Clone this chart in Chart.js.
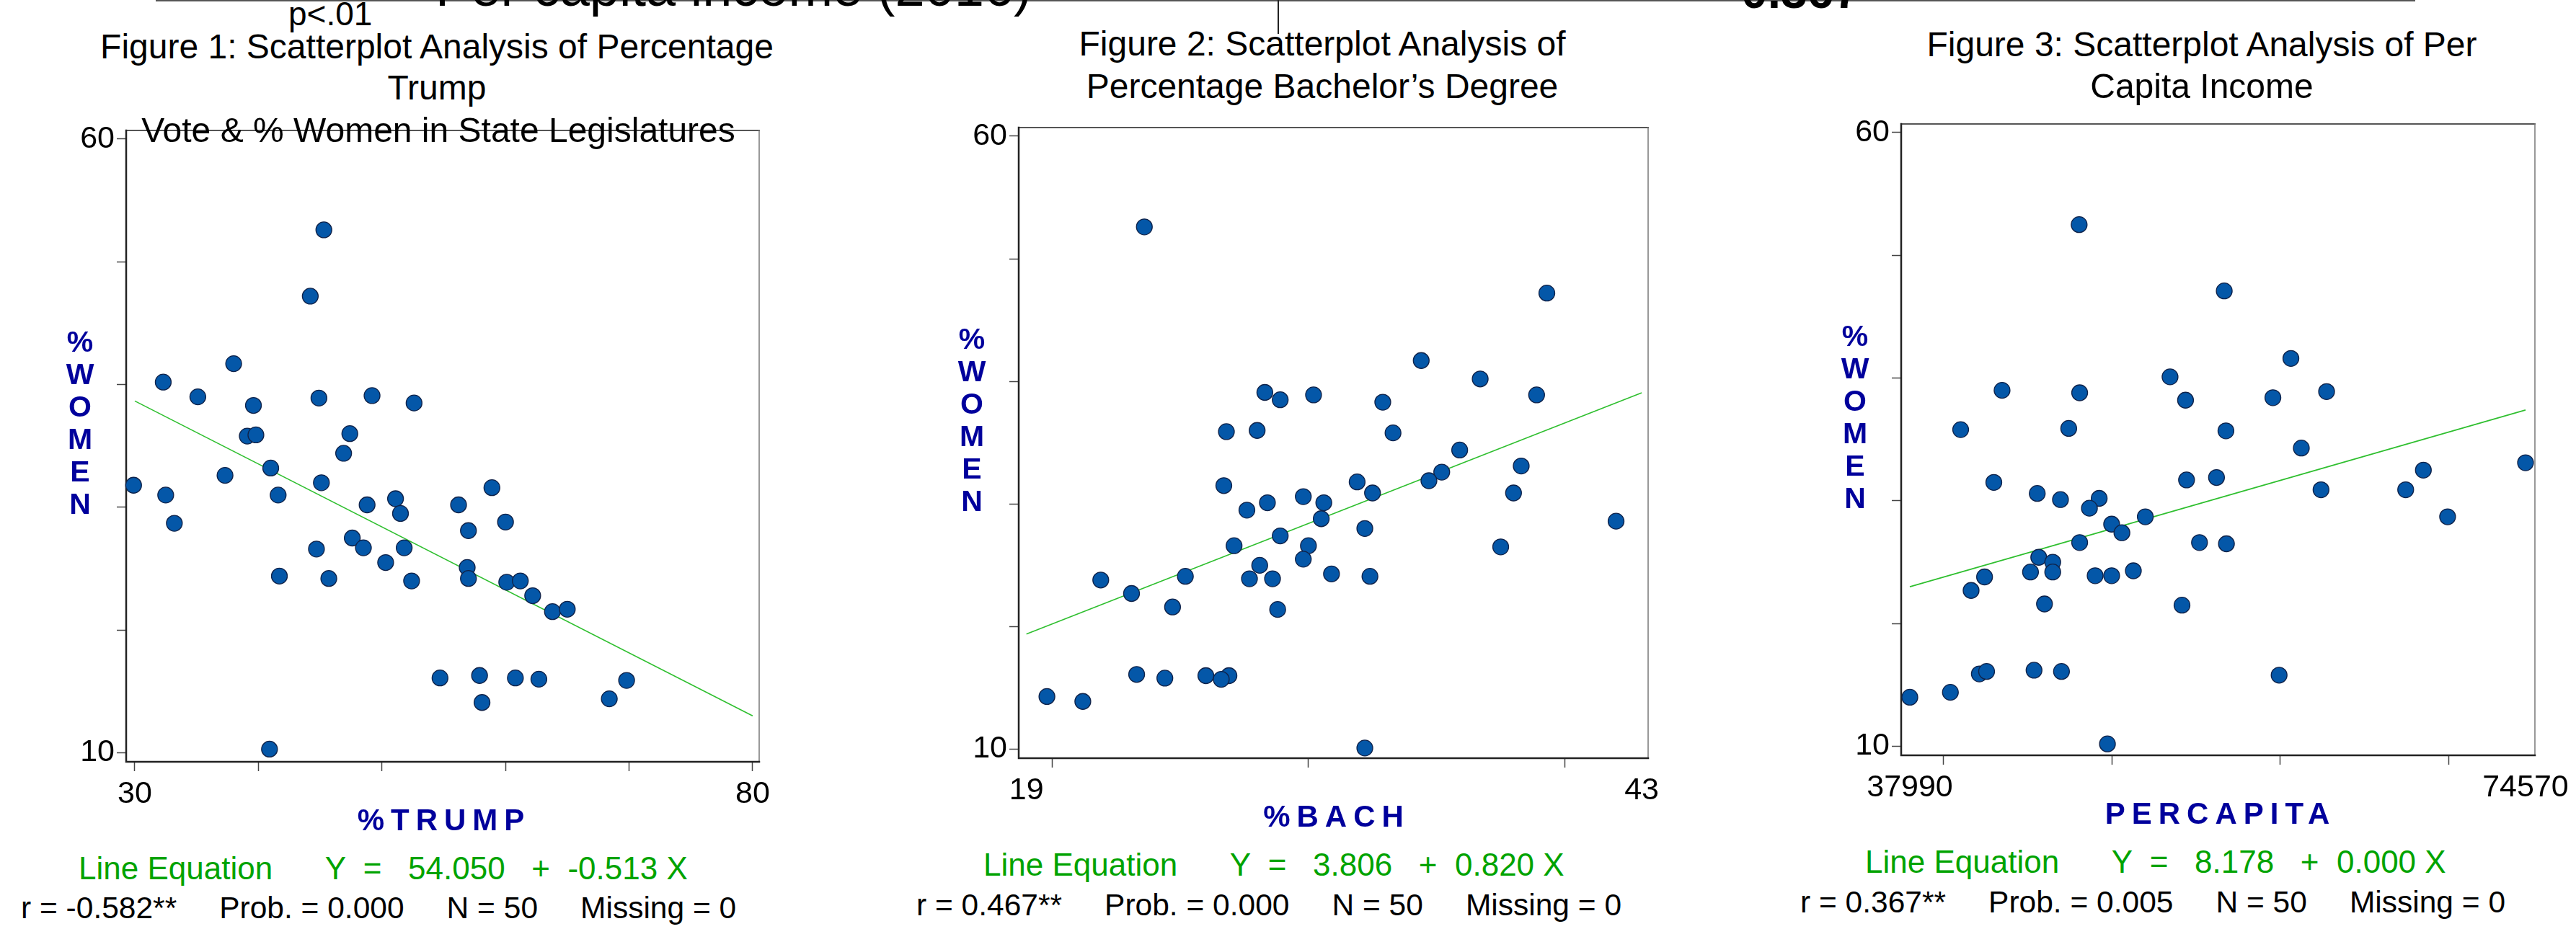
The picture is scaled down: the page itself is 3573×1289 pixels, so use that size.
<!DOCTYPE html>
<html>
<head>
<meta charset="utf-8">
<script src="https://cdn.jsdelivr.net/npm/chart.js@4.4.1/dist/chart.umd.min.js"></script>
<style>
body { margin: 0; background: #fff; }
#page { position: relative; width: 3573px; height: 1289px; overflow: hidden; background: #fff;
        font-family: "Liberation Sans", Arial, sans-serif; }
#page canvas { position: absolute; }
.t { position: absolute; white-space: pre; color: #000; }
.rule { position: absolute; }
</style>
</head>
<body>
<div id="page"></div>
<script>
// --- data ---
// y axis (% women in state legislatures), same for all three plots
const womenMarks = [10, 20, 30, 40, 50, 60];
const womenLabels = [10, 60];

// Figure 1: % Trump vote
const trumpX = [45.3, 44.2, 38.0, 32.3, 35.1, 44.9, 49.2, 52.6, 39.6, 39.1,
                39.8, 47.4, 46.9, 41.0, 37.3, 29.9, 45.1, 32.5, 41.6, 58.9,
                51.1, 48.8, 56.2, 51.5, 33.2, 60.0, 57.0, 47.6, 44.7, 48.5,
                51.8, 50.3, 56.9, 41.7, 45.7, 52.4, 57.0, 60.1, 61.2, 62.2,
                63.8, 65.0, 54.7, 57.9, 60.8, 62.7, 69.8, 58.1, 68.4, 40.9];
const trumpY = [52.6, 47.2, 41.7, 40.2, 39.0, 38.9, 39.1, 38.5, 38.3, 35.8,
                35.9, 36.0, 34.4, 33.2, 32.6, 31.8, 32.0, 31.0, 31.0, 31.6,
                30.7, 30.2, 30.2, 29.5, 28.7, 28.8, 28.1, 27.5, 26.6, 26.7,
                26.7, 25.5, 25.1, 24.4, 24.2, 24.0, 24.2, 23.9, 24.0, 22.8,
                21.5, 21.7, 16.1, 16.3, 16.1, 16.0, 15.9, 14.1, 14.4, 10.3];
const trumpMarks = [30, 40, 50, 60, 70, 80];
const trumpLabels = [30, 80];
const trumpLineX = [30, 80];
const trumpLineY = [38.66, 13.01];

// Figure 2: % bachelor's degree
const bachX = [23.6, 39.3, 34.4, 36.7, 28.3, 28.9, 30.2, 32.9, 38.9, 26.8,
               28.0, 33.3, 35.9, 38.3, 35.2, 34.7, 26.7, 31.9, 32.5, 38.0,
               29.8, 28.4, 30.6, 27.6, 30.5, 42.0, 32.2, 28.9, 27.1, 30.0,
               37.5, 29.8, 28.1, 21.9, 25.2, 27.7, 28.6, 30.9, 32.4, 23.1,
               24.7, 28.8, 23.3, 24.4, 26.0, 26.9, 26.6, 19.8, 21.2, 32.2];
const bachY = [52.6, 47.2, 41.7, 40.2, 39.1, 38.5, 38.9, 38.3, 38.9, 35.9,
               36.0, 35.8, 34.4, 33.1, 32.6, 31.9, 31.5, 31.8, 30.9, 30.9,
               30.6, 30.1, 30.1, 29.5, 28.8, 28.6, 28.0, 27.4, 26.6, 26.6,
               26.5, 25.5, 25.0, 23.8, 24.1, 23.9, 23.9, 24.3, 24.1, 22.7,
               21.6, 21.4, 16.1, 15.8, 16.0, 16.0, 15.7, 14.3, 13.9, 10.1];
const bachMarks = [20, 30, 40];
const bachLabels = [19, 43];
const bachLineX = [19, 43];
const bachLineY = [19.39, 39.07];

// Figure 3: per capita income
const incomeX = [48050, 56670, 60630, 53450, 43470, 48080, 59560, 54370, 62750, 41010,
                 47430, 56770, 61250, 74570, 68500, 54430, 56210, 42980, 45560, 46940,
                 49240, 62420, 67450, 48660, 51980, 69940, 49980, 50590, 48080, 55200,
                 56800, 45650, 46480, 45160, 46480, 49000, 49980, 51270, 42430, 41630,
                 45990, 54160, 42120, 42550, 45370, 47000, 59930, 40400, 37990, 49730];
const incomeY = [52.5, 47.1, 41.6, 40.1, 39.0, 38.8, 38.4, 38.2, 38.9, 35.8,
                 35.9, 35.7, 34.3, 33.1, 32.5, 31.7, 31.9, 31.5, 30.6, 30.1,
                 30.2, 30.9, 30.9, 29.4, 28.7, 28.7, 28.1, 27.4, 26.6, 26.6,
                 26.5, 25.4, 25.0, 24.2, 24.2, 23.9, 23.9, 24.3, 23.8, 22.7,
                 21.6, 21.5, 15.9, 16.1, 16.2, 16.1, 15.8, 14.4, 14.0, 10.2];
const incomeMarks = [40000, 50000, 60000, 70000];
const incomeLabels = [37990, 74570];
const incomeLineX = [37990, 74570];
const incomeLineY = [23.0, 37.4];

const FONT = '"Liberation Sans", Arial, sans-serif';
Chart.defaults.font.family = FONT;

const page = document.getElementById('page');

// chart area of each plot box in page pixels, plus axis range
const panels = [
  { area: { left: 175, top: 181, right: 1053, bottom: 1057 }, xMin: 29.3, xMax: 80.53,
    xs: trumpX, ys: trumpY, marks: trumpMarks, labels: trumpLabels, lx: trumpLineX, ly: trumpLineY },
  { area: { left: 1413, top: 177, right: 2286, bottom: 1052 }, xMin: 18.7, xMax: 43.25,
    xs: bachX, ys: bachY, marks: bachMarks, labels: bachLabels, lx: bachLineX, ly: bachLineY },
  { area: { left: 2637, top: 172, right: 3516, bottom: 1048 }, xMin: 37476, xMax: 75127,
    xs: incomeX, ys: incomeY, marks: incomeMarks, labels: incomeLabels, lx: incomeLineX, ly: incomeLineY }
];

const boxPlugin = {
  id: 'box',
  beforeDatasetsDraw(chart) {
    const { ctx, chartArea: a } = chart;
    ctx.save();
    ctx.lineCap = 'square';
    ctx.strokeStyle = '#555';
    ctx.lineWidth = 2;
    ctx.beginPath();
    ctx.moveTo(a.left, a.top);
    ctx.lineTo(a.right, a.top);
    ctx.stroke();
    ctx.strokeStyle = '#777';
    ctx.lineWidth = 1.5;
    ctx.beginPath();
    ctx.moveTo(a.right, a.top);
    ctx.lineTo(a.right, a.bottom);
    ctx.stroke();
    ctx.strokeStyle = '#222';
    ctx.lineWidth = 2.5;
    ctx.beginPath();
    ctx.moveTo(a.left, a.top);
    ctx.lineTo(a.left, a.bottom);
    ctx.lineTo(a.right, a.bottom);
    ctx.stroke();
    ctx.restore();
  }
};

function tickSet(marks, labels) {
  return Array.from(new Set(marks.concat(labels))).sort((a, b) => a - b);
}

function makePanel(p) {
  const padL = 110, padT = 30, padR = 80, padB = 100;
  const a = p.area;
  const cv = document.createElement('canvas');
  cv.width = a.right - a.left + padL + padR;
  cv.height = a.bottom - a.top + padT + padB;
  cv.style.left = (a.left - padL) + 'px';
  cv.style.top = (a.top - padT) + 'px';
  page.appendChild(cv);

  const xTicks = tickSet(p.marks, p.labels);
  const yTicks = tickSet(womenMarks, womenLabels);
  const points = p.xs.map((x, i) => ({ x: x, y: p.ys[i] }));
  const line = p.lx.map((x, i) => ({ x: x, y: p.ly[i] }));

  new Chart(cv, {
    type: 'scatter',
    data: {
      datasets: [
        {
          data: points,
          order: 0,
          pointStyle: 'circle',
          pointRadius: 11,
          pointHoverRadius: 11,
          backgroundColor: '#0457a8',
          borderColor: '#10234a',
          borderWidth: 1.3,
          clip: false
        },
        {
          data: line,
          order: 1,
          showLine: true,
          pointRadius: 0,
          borderColor: '#2fbf2f',
          borderWidth: 1.6
        }
      ]
    },
    plugins: [boxPlugin],
    options: {
      responsive: false,
      animation: false,
      events: [],
      layout: { padding: { top: padT, right: padR, left: 0, bottom: 0 } },
      plugins: { legend: { display: false }, tooltip: { enabled: false } },
      scales: {
        x: {
          type: 'linear',
          min: p.xMin,
          max: p.xMax,
          afterBuildTicks: s => { s.ticks = xTicks.map(v => ({ value: v })); },
          afterFit: s => { s.height = padB; },
          border: { display: false },
          grid: {
            drawOnChartArea: false,
            drawTicks: true,
            tickLength: 13,
            tickWidth: 1.5,
            tickColor: c => (c.tick && p.marks.includes(c.tick.value)) ? '#444' : 'rgba(0,0,0,0)'
          },
          ticks: {
            autoSkip: false,
            maxRotation: 0,
            padding: 6,
            color: '#000',
            font: { size: 43 },
            callback: v => p.labels.includes(v) ? String(v) : ''
          }
        },
        y: {
          type: 'linear',
          min: 9.27,
          max: 60.7,
          afterBuildTicks: s => { s.ticks = yTicks.map(v => ({ value: v })); },
          afterFit: s => { s.width = padL; },
          border: { display: false },
          grid: {
            drawOnChartArea: false,
            drawTicks: true,
            tickLength: 13,
            tickWidth: 1.5,
            tickColor: c => (c.tick && womenMarks.includes(c.tick.value)) ? '#444' : 'rgba(0,0,0,0)'
          },
          ticks: {
            autoSkip: false,
            padding: 3,
            color: '#000',
            font: { size: 43 },
            callback: v => womenLabels.includes(v) ? String(v) : ''
          }
        }
      }
    }
  });
}

panels.forEach(makePanel);

// --- text ---
function addText(str, x, baseline, size, opts) {
  opts = opts || {};
  const d = document.createElement('div');
  d.className = 't';
  d.textContent = str;
  d.style.fontSize = size + 'px';
  d.style.lineHeight = size + 'px';
  d.style.top = (baseline - 0.8465 * size) + 'px';
  d.style.left = x + 'px';
  if (opts.bold) d.style.fontWeight = 'bold';
  if (opts.color) d.style.color = opts.color;
  if (opts.spacing) d.style.letterSpacing = opts.spacing + 'px';
  if (opts.center) d.style.transform = 'translateX(-50%)';
  page.appendChild(d);
}

function addRule(left, top, w, h, color) {
  const d = document.createElement('div');
  d.className = 'rule';
  d.style.left = left + 'px';
  d.style.top = top + 'px';
  d.style.width = w + 'px';
  d.style.height = h + 'px';
  d.style.background = color;
  page.appendChild(d);
}

// bits of the table above, cut off at the top edge
addRule(216, 0, 3134, 2, '#555');
addRule(1772, 0, 2, 47, '#222');
addText('Per capita income (2016)', 604, 9, 74);
addText('0.367', 2415, 11, 66, { bold: true });
addText('p<.01', 400, 35, 46);

// figure titles
addText('Figure 1: Scatterplot Analysis of Percentage', 606, 82, 48, { center: true });
addText('Trump', 606, 139, 48, { center: true });
addText('Vote & % Women in State Legislatures', 608, 198, 48, { center: true });
addText('Figure 2: Scatterplot Analysis of', 1834, 78, 48, { center: true });
addText('Percentage Bachelor\u2019s Degree', 1834, 137, 48, { center: true });
addText('Figure 3: Scatterplot Analysis of Per', 3054, 79, 48, { center: true });
addText('Capita Income', 3054, 137, 48, { center: true });

// vertical y-axis titles
const BLUE = '#00009c';
const yTitle = ['%', 'W', 'O', 'M', 'E', 'N'];
[[111, 474], [1348, 470], [2573, 466]].forEach(([x, y0]) => {
  yTitle.forEach((ch, i) => addText(ch, x, y0 + i * 45 + 15, 41, { bold: true, color: BLUE, center: true }));
});

// x-axis titles
addText('%TRUMP', 616, 1153, 42, { bold: true, color: BLUE, spacing: 9, center: true });
addText('%BACH', 1854, 1148, 42, { bold: true, color: BLUE, spacing: 9, center: true });
addText('PERCAPITA', 3080, 1144, 42, { bold: true, color: BLUE, spacing: 9, center: true });

// regression summary
const GREEN = '#00a300';
addText('Line Equation      Y  =   54.050   +  -0.513 X', 109, 1220, 44, { color: GREEN });
addText('Line Equation      Y  =   3.806   +  0.820 X', 1364, 1215, 44, { color: GREEN });
addText('Line Equation      Y  =   8.178   +  0.000 X', 2587, 1211, 44, { color: GREEN });
addText('r = -0.582**     Prob. = 0.000     N = 50     Missing = 0', 29, 1275, 42.5);
addText('r = 0.467**     Prob. = 0.000     N = 50     Missing = 0', 1271, 1271, 42.5);
addText('r = 0.367**     Prob. = 0.005     N = 50     Missing = 0', 2497, 1267, 42.5);
</script>
</body>
</html>
